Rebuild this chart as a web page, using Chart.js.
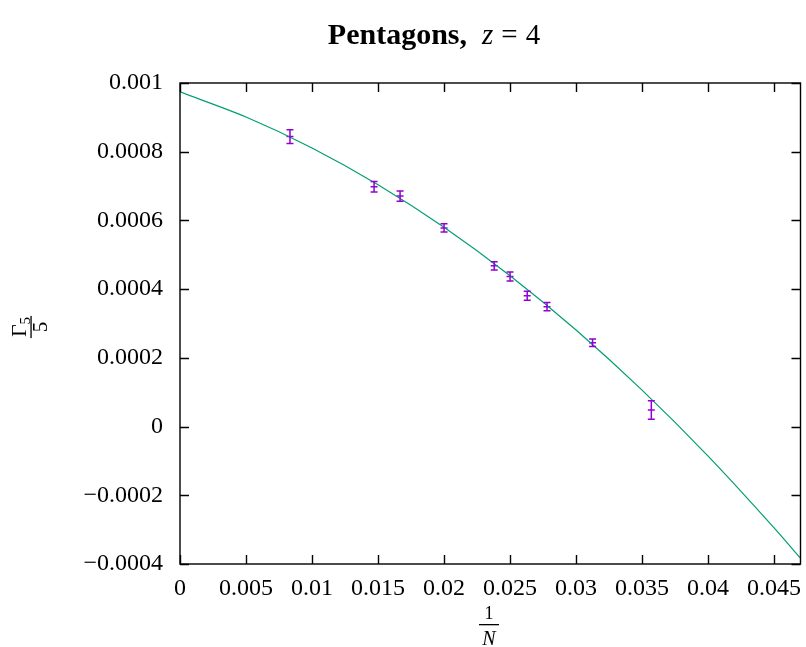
<!DOCTYPE html>
<html>
<head>
<meta charset="utf-8">
<script src="https://cdn.jsdelivr.net/npm/chart.js@4"></script>
<style>
  html, body { margin: 0; padding: 0; background: #fff; }
  #wrap { width: 806px; height: 647px; }
</style>
</head>
<body>
<div id="wrap"><canvas id="myChart" width="806" height="647"></canvas></div>
<script>
// measured points: 1/N, Gamma_5/5 and its error
var invN = [0.00833, 0.0147, 0.01667, 0.02, 0.0238, 0.025, 0.0263, 0.0278, 0.03125, 0.0357];
var gamma5 = [0.000844, 0.000698, 0.000671, 0.000578, 0.000468, 0.000437, 0.000381, 0.000349, 0.000244, 0.000048];
var gammaErr = [0.00002, 0.000015, 0.000015, 0.000012, 0.000012, 0.000013, 0.000013, 0.000012, 0.000011, 0.000027];

// fit curve samples
var fitX = [0, 0.005, 0.01, 0.015, 0.02, 0.025, 0.03, 0.035, 0.04, 0.045, 0.047];
var fitY = [0.000974, 0.000901, 0.000811, 0.000704, 0.00058, 0.000439, 0.000281, 0.000106, -0.000086, -0.000295, -0.000383];

// axis ticks
var xTicks = [0, 0.005, 0.01, 0.015, 0.02, 0.025, 0.03, 0.035, 0.04, 0.045];
var xTickLabels = ["0", "0.005", "0.01", "0.015", "0.02", "0.025", "0.03", "0.035", "0.04", "0.045"];
var yTicks = [-0.0004, -0.0002, 0, 0.0002, 0.0004, 0.0006, 0.0008, 0.001];
var yTickLabels = ["\u22120.0004", "\u22120.0002", "0", "0.0002", "0.0004", "0.0006", "0.0008", "0.001"];

var serif = "'Liberation Serif', 'DejaVu Serif', serif";
var purple = "#9400d3";
var green = "#009e73";

var pointData = [];
for (var i = 0; i < invN.length; i++) {
    pointData.push({ x: invN[i], y: gamma5[i] });
}
var fitData = [];
for (var j = 0; j < fitX.length; j++) {
    fitData.push({ x: fitX[j], y: fitY[j] });
}

// vertical error bars with caps
var errorBars = {
    id: "errorBars",
    afterDatasetsDraw: function (chart) {
        var ctx = chart.ctx;
        var xs = chart.scales.x, ys = chart.scales.y;
        ctx.save();
        ctx.strokeStyle = purple;
        ctx.lineWidth = 1.5;
        for (var i = 0; i < invN.length; i++) {
            var px = xs.getPixelForValue(invN[i]);
            var top = ys.getPixelForValue(gamma5[i] + gammaErr[i]);
            var bot = ys.getPixelForValue(gamma5[i] - gammaErr[i]);
            ctx.beginPath();
            ctx.moveTo(px, top); ctx.lineTo(px, bot);
            ctx.moveTo(px - 3.5, top); ctx.lineTo(px + 3.5, top);
            ctx.moveTo(px - 3.5, bot); ctx.lineTo(px + 3.5, bot);
            ctx.stroke();
        }
        ctx.restore();
    }
};

// box frame with inward ticks on all four sides
var frame = {
    id: "frame",
    afterDraw: function (chart) {
        var ctx = chart.ctx, a = chart.chartArea;
        var xs = chart.scales.x, ys = chart.scales.y;
        ctx.save();
        ctx.strokeStyle = "#000";
        ctx.lineWidth = 1.4;
        ctx.beginPath();
        xTicks.forEach(function (v) {
            var px = Math.round(xs.getPixelForValue(v)) + 0.5;
            ctx.moveTo(px, a.bottom); ctx.lineTo(px, a.bottom - 9);
            ctx.moveTo(px, a.top); ctx.lineTo(px, a.top + 9);
        });
        yTicks.forEach(function (v) {
            var py = Math.round(ys.getPixelForValue(v)) + 0.5;
            ctx.moveTo(a.left, py); ctx.lineTo(a.left + 9, py);
            ctx.moveTo(a.right, py); ctx.lineTo(a.right - 9, py);
        });
        ctx.stroke();
        ctx.strokeRect(a.left, a.top, a.right - a.left, a.bottom - a.top);
        ctx.restore();
    }
};

// title and fraction axis labels
var labels = {
    id: "labels",
    afterDraw: function (chart) {
        var ctx = chart.ctx, a = chart.chartArea;
        ctx.save();
        ctx.fillStyle = "#000";
        ctx.textBaseline = "alphabetic";
        ctx.textAlign = "left";

        // title: Pentagons, z = 4
        var f1 = "bold 30px " + serif, f2 = "italic 29px " + serif, f3 = "29px " + serif;
        ctx.font = f1; var w1 = ctx.measureText("Pentagons,").width;
        ctx.font = f2; var w2 = ctx.measureText("z").width;
        ctx.font = f3; var w3 = ctx.measureText("=").width, w4 = ctx.measureText("4").width;
        var gap = 15, sp = 8;
        var total = w1 + gap + w2 + sp + w3 + sp + w4;
        var tx = 434 - total / 2;
        ctx.font = f1; ctx.fillText("Pentagons,", tx, 44);
        tx += w1 + gap;
        ctx.font = f2; ctx.fillText("z", tx, 44);
        tx += w2 + sp;
        ctx.font = f3; ctx.fillText("=", tx, 44);
        tx += w3 + sp;
        ctx.fillText("4", tx, 44);

        // x label: 1/N
        var cx = 489;
        ctx.textAlign = "center";
        ctx.font = "18px " + serif;
        ctx.fillText("1", cx, 619);
        ctx.fillRect(cx - 10, 624, 20, 1.3);
        ctx.font = "italic 20px " + serif;
        ctx.fillText("N", cx, 645);

        // y label: Gamma_5 / 5, rotated
        ctx.translate(31, 327);
        ctx.rotate(-Math.PI / 2);
        ctx.font = "22px " + serif;
        var gw = ctx.measureText("\u0393").width;
        ctx.font = "15px " + serif;
        var sw = ctx.measureText("5").width;
        var nx = -(gw + sw) / 2;
        ctx.textAlign = "left";
        ctx.font = "22px " + serif;
        ctx.fillText("\u0393", nx, -5);
        ctx.font = "15px " + serif;
        ctx.fillText("5", nx + gw, -1);
        ctx.fillRect(nx - 1, -0.6, gw + sw + 2, 1.3);
        ctx.textAlign = "center";
        ctx.font = "21px " + serif;
        ctx.fillText("5", 0, 16);
        ctx.restore();
    }
};

var ctx = document.getElementById("myChart");
var myChart = new Chart(ctx, {
    type: "scatter",
    data: {
        datasets: [{
            type: "line",
            data: fitData,
            borderColor: green,
            borderWidth: 1.2,
            pointRadius: 0,
            cubicInterpolationMode: "monotone",
            fill: false
        }, {
            type: "scatter",
            data: pointData,
            pointStyle: "line",
            pointRadius: 3.5,
            borderColor: purple,
            backgroundColor: purple,
            pointBorderWidth: 1.5
        }]
    },
    options: {
        responsive: false,
        animation: false,
        events: [],
        layout: { padding: { left: 0, right: 4, top: 83, bottom: 0 } },
        plugins: {
            legend: { display: false },
            title: { display: false },
            tooltip: { enabled: false }
        },
        scales: {
            x: {
                type: "linear",
                min: 0,
                max: 0.047,
                grid: { display: false, drawTicks: false },
                border: { display: false },
                afterBuildTicks: function (scale) {
                    scale.ticks = xTicks.map(function (v) { return { value: v }; });
                },
                afterFit: function (scale) {
                    scale.height = 83;
                    scale.paddingLeft = 0;
                    scale.paddingRight = 0;
                },
                ticks: {
                    padding: 10,
                    maxRotation: 0,
                    autoSkip: false,
                    color: "#000",
                    font: { family: serif, size: 24 },
                    callback: function (v, idx) { return xTickLabels[idx]; }
                }
            },
            y: {
                type: "linear",
                min: -0.0004,
                max: 0.001,
                grid: { display: false, drawTicks: false },
                border: { display: false },
                afterBuildTicks: function (scale) {
                    scale.ticks = yTicks.map(function (v) { return { value: v }; });
                },
                afterFit: function (scale) {
                    scale.width = 180;
                    scale.paddingTop = 0;
                    scale.paddingBottom = 0;
                },
                ticks: {
                    padding: 17,
                    autoSkip: false,
                    color: "#000",
                    font: { family: serif, size: 24 },
                    callback: function (v, idx) { return yTickLabels[idx]; }
                }
            }
        }
    },
    plugins: [errorBars, frame, labels]
});
</script>
</body>
</html>
